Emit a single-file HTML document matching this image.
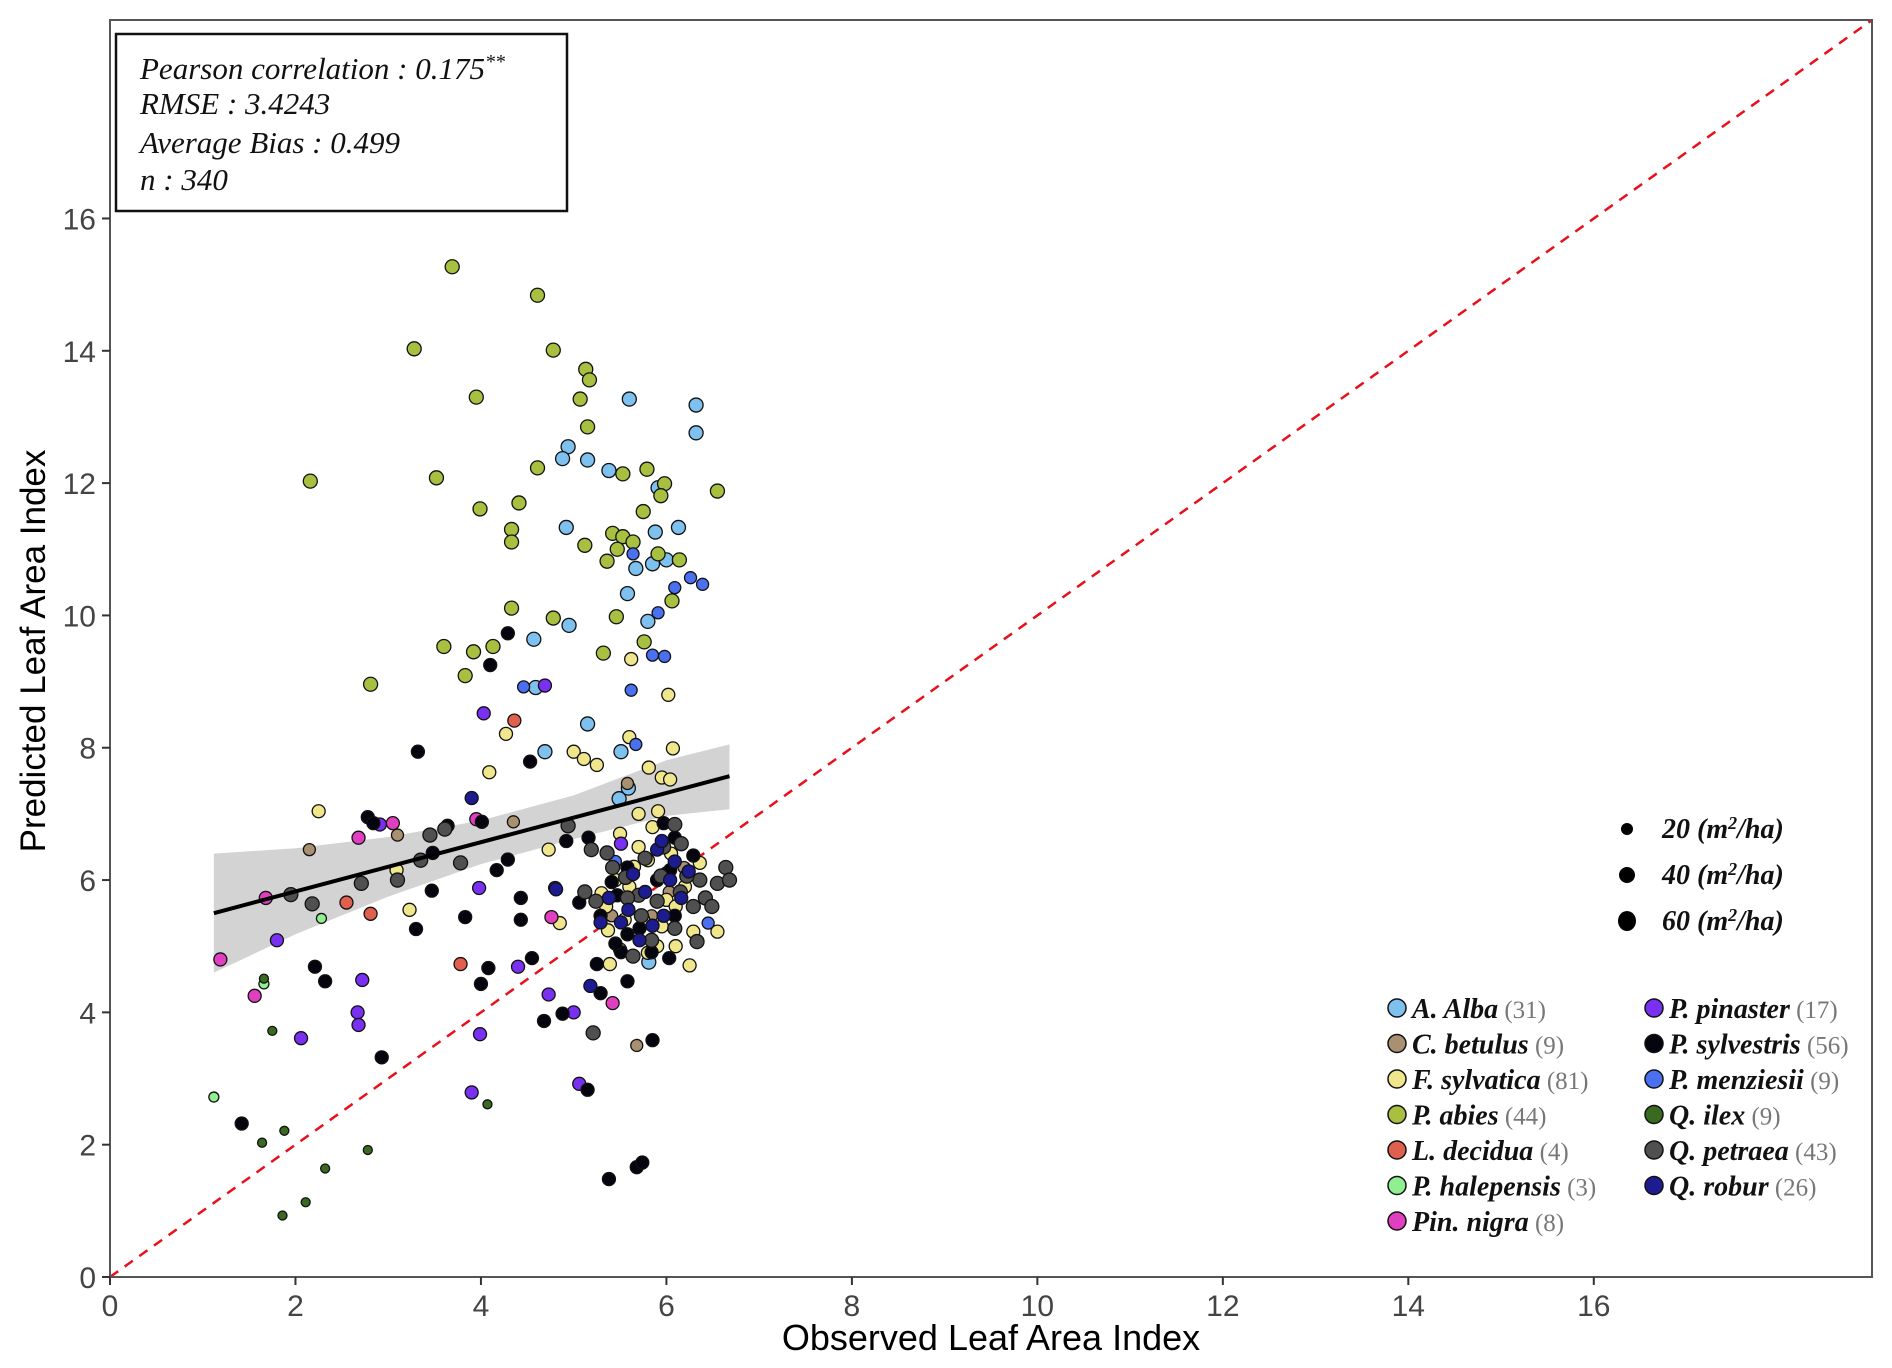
<!DOCTYPE html>
<html><head><meta charset="utf-8"><style>
body{margin:0;background:#fff;}
svg{display:block;}
</style></head><body>
<svg id="chart" width="1892" height="1368" xmlns="http://www.w3.org/2000/svg">
<rect width="1892" height="1368" fill="#fff"/>
<g id="band"></g>
<g id="diag"></g>
<g id="pts"></g>
<g id="fit"></g>
<rect x="110" y="20" width="1762" height="1257" fill="none" stroke="#555" stroke-width="2"/>
<g id="axes"></g>
<text x="991" y="1350" font-family="Liberation Sans, sans-serif" font-size="36" text-anchor="middle" fill="#000">Observed Leaf Area Index</text>
<text transform="translate(45,651) rotate(-90)" font-family="Liberation Sans, sans-serif" font-size="35" text-anchor="middle" fill="#000">Predicted Leaf Area Index</text>
<g font-family="Liberation Serif, serif" font-style="italic" font-size="31" fill="#111">
<rect x="116" y="34" width="451" height="177" fill="#fff" stroke="#111" stroke-width="2.5"/>
<text x="140" y="79">Pearson correlation : 0.175<tspan dy="-11" font-size="20">**</tspan></text>
<text x="140" y="114" dy="0">RMSE : 3.4243</text>
<text x="140" y="153">Average Bias : 0.499</text>
<text x="140" y="190">n : 340</text>
</g>
<g font-family="Liberation Serif, serif" font-style="italic" font-weight="bold" font-size="28" fill="#111">
<ellipse cx="1627" cy="829" rx="6" ry="6" fill="#000"/>
<text x="1662" y="838">20 (m<tspan dy="-9" font-size="18">2</tspan><tspan dy="9">/ha)</tspan></text>
<ellipse cx="1627" cy="875" rx="8" ry="8" fill="#000"/>
<text x="1662" y="884">40 (m<tspan dy="-9" font-size="18">2</tspan><tspan dy="9">/ha)</tspan></text>
<ellipse cx="1627" cy="921" rx="9" ry="10" fill="#000"/>
<text x="1662" y="930">60 (m<tspan dy="-9" font-size="18">2</tspan><tspan dy="9">/ha)</tspan></text>
</g>
<g id="legend" font-family="Liberation Serif, serif" font-size="28"></g>
</svg>
<script>
const NS='http://www.w3.org/2000/svg';
const xTicks=[0,2,4,6,8,10,12,14,16];
const yTicks=[0,2,4,6,8,10,12,14,16];
const species=['A. Alba','C. betulus','F. sylvatica','P. abies','L. decidua','P. halepensis','Pin. nigra','P. pinaster','P. sylvestris','P. menziesii','Q. ilex','Q. petraea','Q. robur'];
const counts=[31,9,81,44,4,3,8,17,56,9,9,43,26];
const colors=['#7ec0ee','#a89070','#f0e68c','#a8c040','#e06050','#90f090','#e040c0','#7a30f0','#05050f','#4a70f0','#3a6a20','#505050','#1c1c90'];
const fitX=[1.12,6.68];
const fitY=[5.5,7.57];
const bandX=[1.12,2,3,4,5,6,6.68];
const bandLo=[4.6,5.18,5.75,6.24,6.62,6.97,7.07];
const bandHi=[6.4,6.48,6.65,6.9,7.28,7.81,8.05];
const obsAlba=[5.60,6.32,6.32,4.94,4.88,5.15,5.38,5.91,4.92,5.88,6.13,5.67,5.85,6.0,5.58,4.95,5.80,4.57,4.59,5.15,4.69,5.51,5.49,5.81,5.59];
const predAlba=[13.27,13.18,12.76,12.55,12.37,12.35,12.19,11.93,11.33,11.26,11.33,10.71,10.78,10.84,10.33,9.85,9.91,9.64,8.91,8.36,7.94,7.94,7.23,4.76,7.39];
const obsBet=[2.15,4.35,5.58,5.68,5.84,6.19,3.1,5.41,6.03];
const predBet=[6.46,6.88,7.46,3.5,5.46,6.19,6.68,5.46,5.82];
const obsFag=[2.25,4.09,4.27,5.62,6.02,6.07,5.60,5.0,5.11,5.25,5.81,5.95,6.04,5.91,3.23,3.09,4.85,4.73,5.37,5.39,6.25,6.55,6.29,6.36,5.5,5.7,5.8,5.9,6.0,5.6,5.75,5.95,6.1,5.65,5.85,6.05,5.45,5.55,6.2,5.3,5.7,6.0,5.9,5.8,6.1,5.5,5.35];
const predFag=[7.04,7.63,8.21,9.34,8.8,7.99,8.16,7.94,7.83,7.74,7.70,7.55,7.52,7.04,5.55,6.15,5.35,6.46,5.24,4.73,4.71,5.22,5.22,6.26,6.7,6.5,6.3,6.0,5.7,5.9,5.4,5.3,5.6,6.2,6.8,6.4,6.0,5.4,5.9,5.8,7.0,6.1,5.0,4.9,5.0,4.95,5.6];
const obsAbies=[3.69,4.61,3.28,4.78,5.13,5.17,3.95,5.07,5.15,2.16,3.52,4.61,5.53,5.79,5.98,5.94,6.55,3.99,4.41,4.33,4.33,5.75,5.42,5.53,5.12,5.47,5.64,5.36,5.91,6.14,6.06,4.33,4.78,5.46,3.60,3.92,4.13,5.32,3.83,2.81,5.76];
const predAbies=[15.27,14.84,14.03,14.01,13.72,13.56,13.30,13.27,12.85,12.03,12.08,12.23,12.14,12.21,11.99,11.81,11.88,11.61,11.70,11.30,11.11,11.57,11.24,11.19,11.06,11.0,11.11,10.82,10.93,10.84,10.22,10.11,9.96,9.98,9.53,9.45,9.53,9.43,9.09,8.96,9.6];
const obsLar=[4.36,2.81,2.55,3.78];
const predLar=[8.41,5.49,5.66,4.73];
const obsHal=[1.12,1.66,2.28];
const predHal=[2.72,4.43,5.42];
const obsNig=[1.19,1.56,1.68,2.68,3.05,3.95,4.76,5.42];
const predNig=[4.8,4.25,5.73,6.64,6.86,6.92,5.44,4.14];
const obsPin=[4.69,4.03,3.98,2.91,4.80,3.99,2.67,2.68,2.72,2.06,1.80,3.90,5.06,4.73,5.0,4.4,5.51];
const predPin=[8.94,8.52,5.88,6.84,5.88,3.67,4.0,3.81,4.49,3.61,5.09,2.79,2.92,4.27,4.0,4.69,6.55];
const obsSyl=[4.29,4.10,3.32,4.53,2.78,3.64,4.01,3.48,4.29,5.16,3.3,3.47,3.83,4.17,4.43,4.43,2.21,2.32,2.93,4.08,4.0,4.55,4.68,4.88,5.29,5.58,5.15,5.85,1.42,5.38,5.68,5.74,5.29,5.41,5.47,5.51,5.58,5.71,5.9,6.04,6.09,6.29,5.97,5.06,5.25,5.58,5.84,6.03,6.09,5.45,4.92,2.84];
const predSyl=[9.73,9.25,7.94,7.79,6.95,6.82,6.88,6.41,6.31,6.64,5.26,5.84,5.44,6.15,5.73,5.40,4.69,4.47,3.32,4.67,4.43,4.82,3.87,3.98,4.29,4.47,2.83,3.58,2.32,1.48,1.66,1.73,5.46,5.97,5.77,4.91,5.18,5.27,6.0,6.15,6.64,6.37,6.86,5.66,4.73,6.19,4.91,4.82,5.46,5.04,6.59,6.86];
const obsMen=[5.64,6.09,6.26,6.39,5.91,5.85,5.98,4.46,5.62,5.67,5.45,6.45];
const predMen=[10.93,10.42,10.57,10.47,10.04,9.4,9.38,8.92,8.87,8.05,6.28,5.35];
const obsIlex=[1.66,1.75,1.64,1.88,1.86,2.11,2.32,2.78,4.07];
const predIlex=[4.51,3.72,2.03,2.21,0.93,1.13,1.64,1.92,2.61];
const obsPet=[1.95,2.18,2.71,3.1,3.45,3.61,3.35,3.78,4.94,5.12,5.21,5.36,5.56,5.70,6.09,6.15,6.29,6.36,6.42,6.55,6.64,6.68,6.49,6.33,6.09,5.9,5.77,5.97,5.58,5.42,5.19,5.24,5.73,5.94,6.16,6.22,5.84,5.64];
const predPet=[5.78,5.64,5.95,6.0,6.68,6.77,6.30,6.26,6.82,5.82,3.69,6.41,6.04,5.77,6.84,5.82,5.6,6.0,5.73,5.95,6.19,6.0,5.60,5.07,5.27,5.68,6.33,6.5,5.73,6.19,6.46,5.68,5.46,6.06,6.55,6.06,5.09,4.85];
const obsRob=[3.9,4.81,5.18,5.85,5.59,5.9,5.95,6.04,6.09,5.77,5.64,5.51,5.97,6.16,5.71,5.29,5.38,6.24];
const predRob=[7.24,5.86,4.40,5.31,5.55,6.46,6.59,6.0,6.28,5.82,6.09,5.36,5.46,5.73,5.09,5.36,5.73,6.13];
const seriesObs=[obsAlba,obsBet,obsFag,obsAbies,obsLar,obsHal,obsNig,obsPin,obsSyl,obsMen,obsIlex,obsPet,obsRob];
const seriesPred=[predAlba,predBet,predFag,predAbies,predLar,predHal,predNig,predPin,predSyl,predMen,predIlex,predPet,predRob];

const X0=110,X1=1872,Y0=1277,Y1=20,MAXV=19;
const sx=v=>X0+(X1-X0)*v/MAXV;
const sy=v=>Y0-(Y0-Y1)*v/MAXV;
function mk(tag,attrs,parent){const e=document.createElementNS(NS,tag);for(const k in attrs)e.setAttribute(k,attrs[k]);parent.appendChild(e);return e;}

const band=document.getElementById('band');
let pts=bandX.map((x,i)=>sx(x)+','+sy(bandHi[i]));
for(let i=bandX.length-1;i>=0;i--)pts.push(sx(bandX[i])+','+sy(bandLo[i]));
const bp=mk('polygon',{points:pts.join(' '),fill:'#d3d3d3'},band);



const dl=mk('line',{x1:sx(0),y1:sy(0),x2:sx(MAXV),y2:sy(MAXV),stroke:'#e8101a','stroke-width':2.5,'stroke-dasharray':'10,8'},document.getElementById('diag'));



const pg=document.getElementById('pts');
const radius=[7,6,6.5,7,6.5,5,6.5,6.5,6.5,6,4.5,7,6.5];
seriesObs.forEach((arr,s)=>{
  arr.forEach((x,i)=>{
    const c=mk('circle',{cx:sx(x),cy:sy(seriesPred[s][i]),r:radius[s],fill:colors[s],stroke:'#111','stroke-width':1.3},pg);
    
    
  });
});

const fl=mk('line',{x1:sx(fitX[0]),y1:sy(fitY[0]),x2:sx(fitX[1]),y2:sy(fitY[1]),stroke:'#000','stroke-width':4},document.getElementById('fit'));



const ax=document.getElementById('axes');
xTicks.forEach(t=>{
  const l=mk('line',{x1:sx(t),y1:Y0,x2:sx(t),y2:Y0+8,stroke:'#333','stroke-width':2},ax);
  
  
  const tx=mk('text',{x:sx(t),y:Y0+39,'font-family':'Liberation Sans, sans-serif','font-size':30,'text-anchor':'middle',fill:'#444'},ax);
  tx.textContent=t;
  
  
});
yTicks.forEach(t=>{
  const l=mk('line',{x1:X0-8,y1:sy(t),x2:X0,y2:sy(t),stroke:'#333','stroke-width':2},ax);
  
  
  const tx=mk('text',{x:X0-14,y:sy(t)+11,'font-family':'Liberation Sans, sans-serif','font-size':30,'text-anchor':'end',fill:'#444'},ax);
  tx.textContent=t;
  
  
});

const lg=document.getElementById('legend');
species.forEach((sp,i)=>{
  const col=i<7?0:1,row=i<7?i:i-7;
  const cx=col?1654:1397, y=1008+row*35.5;
  const g=mk('g',{},lg);
  
  
  mk('circle',{cx:cx,cy:y,r:9,fill:colors[i],stroke:'#111','stroke-width':1.5},g);
  const t=mk('text',{x:cx+15,y:y+10},g);
  const a=mk('tspan',{'font-style':'italic','font-weight':'bold',fill:'#111'},t);a.textContent=sp;
  const b=mk('tspan',{fill:'#777','font-size':25},t);b.textContent=' ('+counts[i]+')';
});
</script>
</body></html>
